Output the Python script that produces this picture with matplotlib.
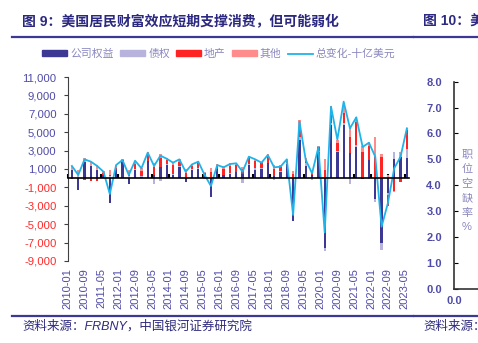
import numpy as np
import pandas as pd
import matplotlib
matplotlib.use("Agg")
import matplotlib.pyplot as plt
from matplotlib.lines import Line2D
from matplotlib.patches import Patch

plt.rcParams['font.family'] = ['Liberation Sans', 'Noto Sans CJK SC', 'DejaVu Sans']

# quarterly data, 2010Q1 - 2023Q2 (billion USD)
quarters = pd.period_range('2010Q1', '2023Q2', freq='Q')

equity = [900, -1300, 1800, 1300, 900, 300, -2700, 900, 1800, -650,
          900, 100, 1900, 300, 1200, 1400, 400, 1200, -400, 900,
          1000, 300, -2000, 1000, 300, 500, 700, 500, 1450, 900,
          1000, 1600, 250, 700, 1500, -4600, 4200, 1300, 300, 2800,
          -7600, 5800, 2900, 5800, 2700, 3400, -100, 2000, -2300, -7000,
          -1600, 2100, 2300, 2200]
debt = [100, 300, 100, 100, 100, 100, 200, 0, 0, 200,
        100, 100, 0, -650, -350, 100, 100, 100, 100, 100,
        100, -100, 100, 0, 100, 100, 0, -500, 100, 200,
        100, 100, -200, 100, 100, 100, 300, 300, -200, 200,
        -300, 200, 100, 200, -600, 200, 0, -100, -300, -800,
        -200, 700, 300, 1000]
estate = [-50, 200, -200, -300, -300, 200, 100, 200, 200, 400,
          500, 600, 600, 900, 1000, 500, 900, 500, 500, 350,
          500, 300, 600, 300, 600, 700, 700, 500, 600, 800,
          500, 600, 800, 400, 300, 400, 900, 400, 300, 400,
          900, 900, 800, 1100, 1800, 2500, 2800, 1500, 2300, 2300,
          -1200, -1400, -400, 2000]
other = [380, 400, 250, 400, 400, 200, 600, 300, 100, 300,
         400, 300, 350, 500, 400, 200, 300, 300, 400, 200,
         250, 100, 400, 200, 300, 300, 250, 200, 250, 200,
         200, 300, 350, 200, 200, 300, 900, 200, 100, 100,
         1200, 900, 400, 900, 1000, 500, 700, 400, 2200, 300,
         300, -100, 300, 300]
total = [1330, 350, 2050, 1800, 1330, 700, -1720, 1430, 1980, 350,
         1900, 1080, 2780, 1330, 2450, 2120, 1690, 2050, 700, 1500,
         1800, 350, -850, 1430, 1180, 1540, 1620, 700, 2340, 2050,
         1690, 2520, 1180, 1250, 2050, -4000, 6180, 1980, 530, 3360,
         -5900, 7780, 4200, 8320, 5420, 6620, 3400, 3860, 2340, -5270,
         -2700, 1080, 2340, 5420]

tick_months = list(range(0, 161, 8))
tick_labels = ['%d-%02d' % (2010 + m // 12, m % 12 + 1) for m in tick_months]

# x position in months from 2010-01 (quarter-end month)
months = np.array([(q.year - 2010) * 12 + q.quarter * 3 - 1 for q in quarters])

NAVY = '#3C3894'
LAV = '#B7B3DC'
RED = '#FF2424'
PINK = '#FF8C8C'
CYAN = '#1EB4EA'
TXT = '#4F4BA8'
GREYTXT = '#8A87BF'

fig = plt.figure(figsize=(4.78, 3.43), dpi=100)
ax = fig.add_axes([0.1416, 0.2391, 0.714, 0.5364])

pos = np.zeros(len(months))
neg = np.zeros(len(months))
for vals, col in [(equity, NAVY), (debt, LAV), (estate, RED), (other, PINK)]:
    v = np.array(vals, dtype=float)
    bottom = np.where(v >= 0, pos, neg)
    ax.bar(months, v, bottom=bottom, width=1.1, color=col, linewidth=0, zorder=2)
    pos = pos + np.where(v > 0, v, 0)
    neg = neg + np.where(v < 0, v, 0)

ax.plot(months, total, color=CYAN, lw=1.3, zorder=3)

ax.set_xlim(0, 162)
ax.set_ylim(-9000, 11000)
yt = list(range(-9000, 11001, 2000))
ax.set_yticks(yt)
ax.set_yticklabels(['{:,}'.format(v) for v in yt])
for lab, v in zip(ax.get_yticklabels(), yt):
    lab.set_color(TXT if v > 0 else '#FF2A2A')
ax.tick_params(axis='y', direction='out', length=3, labelsize=8.2, color='#404040', pad=5)

for s in ['top', 'right']:
    ax.spines[s].set_visible(False)
ax.spines['left'].set_color('#404040')
ax.spines['bottom'].set_position(('data', 0))
ax.spines['bottom'].set_color('black')
ax.spines['bottom'].set_linewidth(1.2)
ax.spines['bottom'].set_zorder(4)
ax.set_xticks(tick_months)
ax.tick_params(axis='x', direction='in', length=3, width=1.5, color='black', labelbottom=False)

sec = ax.secondary_xaxis('bottom')
sec.set_xticks(tick_months)
sec.set_xticklabels(tick_labels, rotation=90)
sec.tick_params(length=0, labelsize=8, colors=TXT, pad=5)
sec.spines['bottom'].set_visible(False)

# legend
handles = [Patch(color=NAVY), Patch(color=LAV), Patch(color=RED), Patch(color=PINK),
           Line2D([], [], color=CYAN, lw=1.3)]
names = ['公司权益', '债权', '地产', '其他', '总变化-十亿美元']
leg = fig.legend(handles, names, loc='center', bbox_to_anchor=(0.458, 0.843), ncol=5,
                 frameon=False, fontsize=7.8, handlelength=2.3, handleheight=0.45,
                 handletextpad=0.3, columnspacing=0.55)
for t in leg.get_texts():
    t.set_color(GREYTXT)

# right (cut off) panel
ax2 = fig.add_axes([0.9504, 0.1583, 0.2, 0.6035])
ax2.set_ylim(0, 8)
ax2.set_yticks(np.arange(0, 8.1, 1))
ax2.set_yticklabels(['%.1f' % v for v in np.arange(0, 8.1, 1)])
ax2.set_xlim(0, 1)
ax2.set_xticks([0])
ax2.set_xticklabels(['0.0'])
for s in ['top', 'right']:
    ax2.spines[s].set_visible(False)
for s in ['left', 'bottom']:
    ax2.spines[s].set_color('#333333')
    ax2.spines[s].set_linewidth(1.2)
ax2.tick_params(axis='y', direction='in', length=3, labelsize=8, labelcolor=TXT, pad=9)
ax2.tick_params(axis='x', length=0, labelsize=8, labelcolor=TXT, pad=5)
for lab in ax2.get_yticklabels() + ax2.get_xticklabels():
    lab.set_fontweight('bold')
fig.text(0.977, 0.443, '\n'.join('职位空缺率%'), color=GREYTXT, fontsize=8,
         ha='center', va='center', linespacing=1.55)

# titles, rules, source
fig.text(0.046, 0.936, '图 9：美国居民财富效应短期支撑消费，但可能弱化', fontsize=10,
         fontweight='bold', color='#2B2880', va='center', ha='left')
fig.text(0.885, 0.936, '图 10：美', fontsize=10,
         fontweight='bold', color='#2B2880', va='center', ha='left')
for yy in [1 - 36.7 / 343, 1 - 316 / 343]:
    fig.add_artist(Line2D([12 / 478, 412.5 / 478], [yy, yy], transform=fig.transFigure,
                          color='#3C3894', lw=1.6))
    fig.add_artist(Line2D([414 / 478, 1], [yy, yy], transform=fig.transFigure,
                          color='#3C3894', lw=1.6))
fig.text(0.046, 0.047, '资料来源：FRBNY，中国银河证券研究院', fontsize=9, style='italic',
         color='#2E2A7E', va='center', ha='left')
fig.text(0.885, 0.047, '资料来源：', fontsize=9, style='italic',
         color='#2E2A7E', va='center', ha='left')

fig.savefig('out.png', dpi=100)
